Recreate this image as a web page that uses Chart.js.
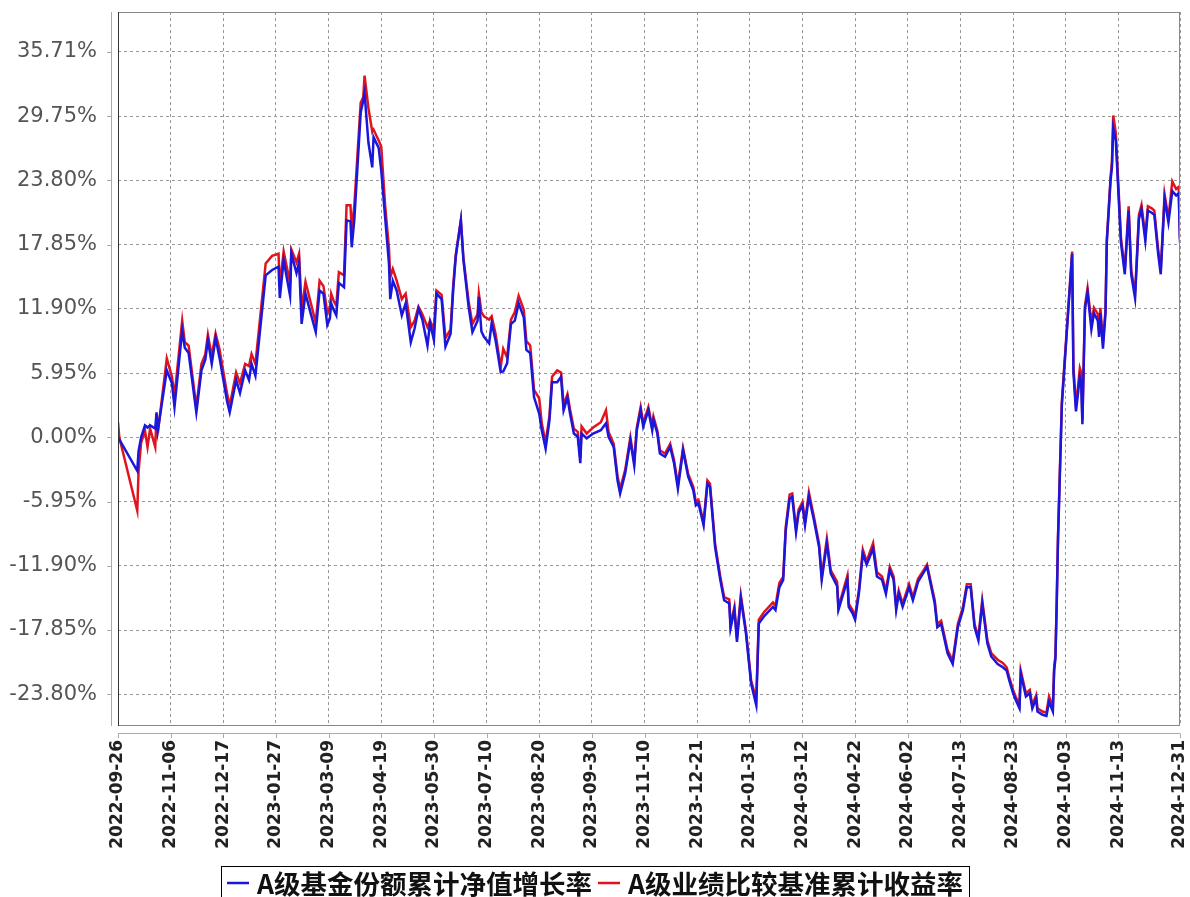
<!DOCTYPE html>
<html>
<head>
<meta charset="utf-8">
<script src="https://cdn.jsdelivr.net/npm/chart.js@4.4.0/dist/chart.umd.min.js"></script>
<style>
  html, body { margin: 0; padding: 0; background: #fff; }
  #wrap { width: 1190px; height: 897px; }
</style>
</head>
<body>
<div id="wrap"><canvas id="navChart" width="1190" height="897"></canvas></div>
<script>
// days counted from 2022-09-26
const dayOffsets = [
  0, 1, 15, 16, 18, 21, 23, 25, 29, 30, 31, 38, 42, 44, 50, 52, 55, 61, 65, 68,
  70, 73, 76, 79, 85, 87, 92, 95, 99, 102, 104, 107, 115, 120, 125, 126, 129, 134, 135, 139,
  141, 143, 146, 150, 154, 157, 160, 163, 165, 166, 168, 170, 172, 176, 178, 181, 182, 184, 189, 191,
  192, 195, 198, 199, 203, 205, 208, 211, 212, 214, 217, 221, 224, 228, 231, 234, 237, 241, 243, 246,
  248, 252, 255, 259, 261, 263, 267, 269, 273, 276, 280, 281, 283, 285, 289, 291, 294, 298, 300, 303,
  306, 309, 312, 316, 318, 321, 324, 328, 330, 333, 336, 338, 342, 345, 347, 350, 352, 355, 358, 360,
  361, 365, 370, 376, 380, 382, 386, 389, 391, 395, 399, 402, 404, 407, 409, 413, 416, 417, 420, 422,
  426, 430, 433, 436, 440, 444, 448, 450, 452, 456, 459, 461, 465, 469, 472, 476, 477, 480, 482, 485,
  489, 493, 497, 499, 503, 510, 512, 515, 518, 520, 523, 525, 528, 530, 533, 535, 538, 542, 546, 548,
  552, 555, 560, 561, 564, 568, 569, 572, 574, 577, 580, 583, 588, 591, 595, 598, 601, 604, 606, 608,
  611, 616, 619, 623, 628, 630, 636, 638, 641, 646, 650, 654, 658, 661, 664, 667, 670, 673, 677, 680,
  685, 689, 692, 694, 697, 699, 702, 703, 707, 710, 712, 715, 716, 720, 723, 725, 728, 729, 730, 731,
  732, 735, 743, 744, 746, 749, 750, 751, 753, 755, 758, 760, 763, 764, 765, 767, 769, 770, 773, 774,
  775, 777, 781, 784, 787, 789, 792, 795, 797, 800, 802, 805, 807, 810, 812, 815, 818, 821, 824, 826,
  827
];

const fundGrowth = [
  0.0, -0.2, -3.1, -1.3, 0.0, 1.1, 0.9, 1.1, 0.8, 2.3, 0.6, 6.2, 5.0, 2.8, 9.9, 8.3, 7.8, 2.3, 6.2, 7.2,
  9.0, 6.8, 9.2, 7.4, 3.3, 2.3, 5.3, 4.1, 6.2, 5.3, 6.8, 5.7, 15.0, 15.5, 15.8, 12.9, 16.4, 13.1, 17.0, 15.2,
  16.2, 10.5, 13.3, 11.5, 9.75, 13.6, 13.3, 10.4, 11.0, 12.4, 11.8, 11.3, 14.3, 13.9, 20.1, 20.0, 17.6, 20.1, 30.1, 31.2,
  31.9, 27.3, 25.0, 27.8, 26.8, 24.7, 20.4, 16.1, 12.8, 14.5, 13.6, 11.3, 12.4, 8.8, 10.1, 11.9, 10.9, 8.5, 10.6, 9.0,
  13.3, 12.8, 8.4, 9.6, 13.6, 16.7, 20.1, 16.4, 12.1, 9.75, 10.8, 13.0, 9.8, 9.3, 8.7, 10.6, 9.0, 6.05, 6.1, 6.85,
  10.5, 10.8, 12.4, 11.1, 8.1, 7.8, 3.7, 2.2, 0.65, -1.05, 1.6, 5.1, 5.1, 5.6, 2.5, 3.7, 2.2, 0.35, 0.05, -2.4,
  0.35, -0.1, 0.35, 0.65, 1.3, 0.05, -0.9, -4.0, -5.2, -3.3, -0.3, -2.6, 0.65, 2.5, 1.0, 2.5, 0.65, 1.6, 0.35, -1.5,
  -1.8, -0.9, -2.4, -4.75, -1.2, -3.65, -4.9, -6.3, -6.1, -8.15, -4.3, -4.6, -10.2, -13.2, -15.1, -15.4, -17.7, -16.0, -18.95, -14.9,
  -18.15, -22.8, -24.8, -17.25, -16.6, -15.7, -16.0, -13.9, -13.2, -8.6, -5.7, -5.5, -8.8, -7.0, -6.3, -8.15, -5.5, -7.7, -10.2, -13.2,
  -9.85, -12.6, -13.8, -16.0, -14.8, -13.2, -15.7, -16.3, -16.9, -14.4, -10.8, -11.8, -10.3, -12.9, -13.2, -14.5, -12.3, -13.2, -16.0, -14.5,
  -15.7, -13.9, -15.1, -13.4, -12.4, -12.0, -15.4, -17.6, -17.3, -20.0, -21.0, -17.6, -16.0, -13.9, -13.9, -17.6, -18.8, -15.4, -19.1, -20.3,
  -21.0, -21.3, -21.6, -22.5, -23.7, -24.3, -25.1, -21.9, -24.0, -23.7, -25.1, -24.2, -25.4, -25.7, -25.8, -24.5, -25.4, -21.6, -20.5, -15.5,
  -9.5, 3.0, 17.0, 6.0, 2.4, 5.6, 5.2, 1.2, 11.9, 13.4, 10.0, 11.5, 10.8, 9.3, 11.5, 8.2, 11.5, 18.05, 23.9, 25.0,
  28.6, 27.5, 18.05, 15.1, 21.0, 15.1, 12.9, 20.2, 21.1, 18.2, 21.0, 20.8, 20.6, 17.0, 15.1, 22.1, 19.9, 22.8, 22.4, 22.6,
  18.05
];

const benchGrowth = [
  1.4, 0.0, -6.8, -3.2, -0.5, 0.6, -0.9, 0.8, -0.9, 2.0, 0.4, 7.3, 5.6, 3.8, 10.8, 8.8, 8.5, 2.8, 6.8, 7.7,
  9.5, 7.5, 9.6, 8.2, 4.0, 2.9, 6.0, 5.0, 6.8, 6.6, 7.7, 6.8, 16.1, 16.8, 17.0, 14.0, 17.2, 14.3, 17.4, 16.2,
  17.0, 11.8, 14.4, 12.5, 10.6, 14.5, 14.0, 11.5, 12.0, 13.3, 12.6, 12.2, 15.3, 15.0, 21.5, 21.5, 19.3, 21.4, 31.0, 31.5,
  33.5, 30.5, 28.3, 28.5, 27.5, 26.9, 21.5, 17.5, 14.8, 15.6, 14.5, 12.8, 13.3, 10.2, 10.8, 12.1, 11.4, 10.2, 10.8, 10.0,
  13.6, 13.2, 9.2, 10.0, 14.0, 16.9, 20.1, 16.6, 12.6, 10.5, 11.4, 13.3, 11.6, 11.2, 10.9, 11.2, 9.6, 6.5, 8.2, 7.4,
  10.9, 11.6, 13.1, 11.8, 8.9, 8.5, 4.4, 3.6, 1.3, -0.5, 2.0, 5.6, 6.2, 6.0, 3.0, 4.0, 2.6, 0.8, 0.5, -1.9,
  1.0, 0.35, 0.9, 1.4, 2.5, 0.5, -0.6, -3.6, -4.8, -3.0, 0.0, -2.3, 0.9, 2.8, 1.3, 2.8, 1.0, 1.9, 0.6, -1.2,
  -1.5, -0.6, -2.1, -4.4, -1.0, -3.4, -4.6, -6.0, -5.8, -7.9, -4.0, -4.3, -9.9, -12.9, -14.8, -15.0, -17.4, -15.7, -18.6, -14.6,
  -17.9, -22.5, -24.3, -16.9, -16.2, -15.3, -15.6, -13.5, -12.9, -8.3, -5.3, -5.2, -8.5, -6.7, -6.0, -7.8, -5.1, -7.4, -9.9, -12.9,
  -9.4, -12.3, -13.4, -15.7, -14.5, -12.8, -15.4, -16.0, -16.6, -14.1, -10.4, -11.5, -9.8, -12.5, -12.9, -14.2, -12.0, -12.9, -15.7, -14.2,
  -15.4, -13.6, -14.8, -13.1, -12.2, -11.8, -15.1, -17.3, -17.0, -19.7, -20.7, -17.3, -15.7, -13.6, -13.6, -17.3, -18.5, -15.1, -18.8, -20.0,
  -20.6, -20.9, -21.3, -22.2, -23.4, -24.0, -24.8, -21.6, -23.7, -23.4, -24.8, -23.9, -25.1, -25.4, -25.5, -24.0, -24.9, -21.3, -20.2, -15.2,
  -9.2, 3.3, 17.2, 6.6, 2.8, 6.4, 6.0, 1.6, 12.2, 13.8, 10.6, 12.0, 11.4, 10.0, 12.0, 8.8, 11.8, 18.3, 24.2, 25.5,
  29.8, 28.2, 18.5, 15.5, 21.4, 15.5, 13.3, 20.6, 21.5, 18.6, 21.4, 21.2, 21.0, 17.4, 15.5, 22.5, 20.3, 23.7, 23.0, 23.2,
  18.4
];

const xTickLabels = [
  '2022-09-26', '2022-11-06', '2022-12-17', '2023-01-27', '2023-03-09', '2023-04-19', '2023-05-30',
  '2023-07-10', '2023-08-20', '2023-09-30', '2023-11-10', '2023-12-21', '2024-01-31', '2024-03-12',
  '2024-04-22', '2024-06-02', '2024-07-13', '2024-08-23', '2024-10-03', '2024-11-13', '2024-12-31'
];
const yTickValues = [-23.80, -17.85, -11.90, -5.95, 0, 5.95, 11.90, 17.85, 23.80, 29.75, 35.71];
const seriesNames = ['A级基金份额累计净值增长率', 'A级业绩比较基准累计收益率'];
const seriesColors = ['#1a16dc', '#e0141e'];

const startUTC = Date.UTC(2022, 8, 26);
function dayOf(s) {
  const [y, m, d] = s.split('-').map(Number);
  return Math.round((Date.UTC(y, m - 1, d) - startUTC) / 86400000);
}
const xTickDays = xTickLabels.map(dayOf);

function noPad(s) {
  s.paddingLeft = 0; s.paddingRight = 0; s.paddingTop = 0; s.paddingBottom = 0;
}

// plot outline, offset axis lines, tick marks and the boxed legend
const frame = {
  id: 'frame',
  afterDraw(chart) {
    const { ctx, chartArea: a, scales: { x, y } } = chart;
    ctx.save();
    ctx.lineWidth = 1;
    ctx.strokeStyle = '#888';
    ctx.strokeRect(a.left + 0.5, a.top + 0.5, a.right - a.left - 1, a.bottom - a.top - 1);
    ctx.strokeStyle = '#333';
    ctx.beginPath();
    ctx.moveTo(a.left + 0.5, a.top);
    ctx.lineTo(a.left + 0.5, a.bottom);
    ctx.stroke();

    ctx.strokeStyle = '#aaa';
    ctx.beginPath();
    ctx.moveTo(a.left - 6.5, a.top);
    ctx.lineTo(a.left - 6.5, a.bottom);
    ctx.moveTo(a.left, a.bottom + 7.5);
    ctx.lineTo(a.right, a.bottom + 7.5);
    y.ticks.forEach(t => {
      const py = Math.round(y.getPixelForValue(t.value)) + 0.5;
      ctx.moveTo(a.left - 11, py);
      ctx.lineTo(a.left - 6.5, py);
    });
    x.ticks.forEach(t => {
      const px = Math.round(x.getPixelForValue(t.value)) + 0.5;
      ctx.moveTo(px, a.bottom + 7.5);
      ctx.lineTo(px, a.bottom + 12);
    });
    ctx.stroke();

    // legend
    const sets = chart.data.datasets;
    ctx.font = 'bold 26.5px "Noto Sans CJK SC"';
    ctx.textBaseline = 'middle';
    ctx.textAlign = 'left';
    const sw = 22, gap = 8, pad = 6, between = 6;
    const widths = sets.map(d => ctx.measureText(d.label).width);
    const total = pad * 2 + sets.length * (sw + gap) + widths.reduce((p, c) => p + c, 0) + between * (sets.length - 1);
    let lx = Math.round(chart.width / 2 - total / 2);
    const top = 866, cy = 883;
    ctx.strokeStyle = '#000';
    ctx.strokeRect(lx + 0.5, top + 0.5, Math.round(total), 40);
    lx += pad;
    sets.forEach((d, i) => {
      ctx.strokeStyle = d.borderColor;
      ctx.lineWidth = 2.5;
      ctx.beginPath();
      ctx.moveTo(lx, cy);
      ctx.lineTo(lx + sw, cy);
      ctx.stroke();
      lx += sw + gap;
      ctx.fillStyle = '#111';
      ctx.fillText(d.label, lx, cy + 1);
      lx += widths[i] + between;
    });
    ctx.restore();
  }
};

new Chart(document.getElementById('navChart'), {
  type: 'line',
  data: {
    datasets: [
      {
        label: seriesNames[0],
        data: dayOffsets.map((d, i) => ({ x: d, y: fundGrowth[i] })),
        borderColor: seriesColors[0],
        backgroundColor: seriesColors[0],
        borderWidth: 2.5,
        pointRadius: 0,
        tension: 0
      },
      {
        label: seriesNames[1],
        data: dayOffsets.map((d, i) => ({ x: d, y: benchGrowth[i] })),
        borderColor: seriesColors[1],
        backgroundColor: seriesColors[1],
        borderWidth: 2.5,
        pointRadius: 0,
        tension: 0
      }
    ]
  },
  options: {
    responsive: false,
    animation: false,
    devicePixelRatio: 1,
    layout: { padding: { top: 12, right: 10, bottom: 39, left: 0 } },
    plugins: { legend: { display: false }, tooltip: { enabled: false } },
    scales: {
      x: {
        type: 'linear',
        min: 0,
        max: 827,
        afterBuildTicks: s => { s.ticks = xTickDays.map(v => ({ value: v })); },
        afterFit: s => { s.height = 132; noPad(s); },
        grid: { color: '#999', drawTicks: false },
        border: { display: false, dash: [3, 3] },
        ticks: {
          autoSkip: false,
          minRotation: 90,
          maxRotation: 90,
          padding: 14,
          color: '#222',
          font: { family: 'DejaVu Sans', size: 17, weight: 'bold' },
          callback: (v, i) => xTickLabels[i]
        }
      },
      y: {
        min: -26.74,
        max: 39.39,
        afterBuildTicks: s => { s.ticks = yTickValues.map(v => ({ value: v })); },
        afterFit: s => { s.width = 118; noPad(s); },
        grid: { color: '#999', drawTicks: false },
        border: { display: false, dash: [3, 3] },
        ticks: {
          padding: 21,
          color: '#555',
          font: { family: 'DejaVu Sans', size: 21 },
          callback: v => v.toFixed(2) + '%'
        }
      }
    }
  },
  plugins: [frame]
});
</script>
</body>
</html>
